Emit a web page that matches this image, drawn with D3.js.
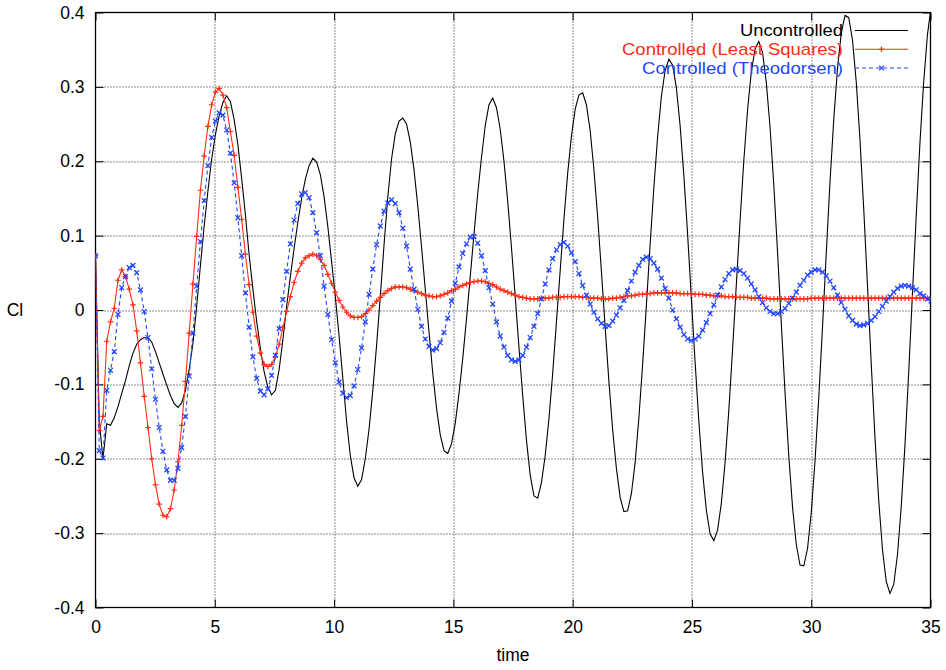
<!DOCTYPE html>
<html>
<head>
<meta charset="utf-8">
<script src="https://cdn.jsdelivr.net/npm/d3@7"></script>
<style>
  body { margin: 0; background: #fff; }
  svg text { font-family: "Liberation Sans", Arial, Helvetica, sans-serif; }
</style>
</head>
<body>
<div id="chart"></div>
<script>
// sample step of the simulation output (pi/20 time units)
const dt = Math.PI / 20

const uncontrolled = [
  0.073, -0.150, -0.200, -0.153, -0.155, -0.145, -0.130, -0.112, -0.095, -0.075,
  -0.058, -0.046, -0.040, -0.037, -0.038, -0.043, -0.056, -0.071, -0.086, -0.101,
  -0.115, -0.126, -0.131, -0.125, -0.108, -0.080, -0.045, 0.005, 0.060, 0.113,
  0.160, 0.203, 0.236, 0.261, 0.279, 0.288, 0.280, 0.256, 0.222, 0.177,
  0.128, 0.074, 0.028, -0.015, -0.052, -0.083, -0.104, -0.114, -0.108, -0.080,
  -0.040, 0.005, 0.045, 0.083, 0.118, 0.150, 0.176, 0.194, 0.204, 0.199,
  0.182, 0.152, 0.112, 0.065, 0.018, -0.035, -0.092, -0.150, -0.196, -0.226,
  -0.237, -0.228, -0.200, -0.160, -0.108, -0.048, 0.018, 0.088, 0.152, 0.203,
  0.237, 0.254, 0.258, 0.250, 0.226, 0.188, 0.140, 0.085, 0.028, -0.030,
  -0.085, -0.132, -0.168, -0.189, -0.193, -0.180, -0.152, -0.112, -0.065, -0.012,
  0.045, 0.102, 0.157, 0.205, 0.248, 0.276, 0.285, 0.272, 0.243, 0.200,
  0.146, 0.084, 0.018, -0.050, -0.115, -0.175, -0.222, -0.250, -0.253, -0.232,
  -0.196, -0.146, -0.085, -0.016, 0.053, 0.122, 0.184, 0.234, 0.270, 0.289,
  0.292, 0.276, 0.241, 0.189, 0.125, 0.052, -0.023, -0.096, -0.161, -0.213,
  -0.252, -0.271, -0.270, -0.247, -0.205, -0.145, -0.073, 0.006, 0.088, 0.165,
  0.233, 0.287, 0.322, 0.337, 0.329, 0.299, 0.248, 0.181, 0.102, 0.016,
  -0.070, -0.150, -0.218, -0.269, -0.301, -0.310, -0.296, -0.260, -0.205, -0.135,
  -0.053, 0.034, 0.120, 0.201, 0.269, 0.320, 0.351, 0.361, 0.346, 0.306,
  0.246, 0.168, 0.078, -0.018, -0.111, -0.196, -0.265, -0.315, -0.343, -0.344,
  -0.321, -0.272, -0.203, -0.118, -0.023, 0.076, 0.172, 0.256, 0.325, 0.372,
  0.396, 0.393, 0.363, 0.307, 0.229, 0.136, 0.033, -0.072, -0.171, -0.256,
  -0.322, -0.365, -0.381, -0.369, -0.329, -0.265, -0.182, -0.084, 0.022, 0.126,
  0.225, 0.307, 0.370, 0.409
]

const leastSquares = [
  0.073, -0.162, -0.143, -0.042, -0.016, 0.002, 0.040, 0.054, 0.045, 0.028,
  0.007, -0.028, -0.071, -0.116, -0.158, -0.200, -0.235, -0.261, -0.276, -0.278,
  -0.267, -0.242, -0.204, -0.155, -0.096, -0.031, 0.035, 0.099, 0.161, 0.207,
  0.247, 0.276, 0.293, 0.298, 0.289, 0.272, 0.240, 0.208, 0.165, 0.122,
  0.075, 0.034, -0.003, -0.035, -0.058, -0.073, -0.076, -0.073, -0.063, -0.046,
  -0.024, -0.002, 0.018, 0.037, 0.052, 0.063, 0.070, 0.073, 0.075, 0.073,
  0.068, 0.060, 0.048, 0.036, 0.024, 0.013, 0.004, -0.003, -0.008, -0.010,
  -0.010, -0.009, -0.005, 0.000, 0.006, 0.012, 0.017, 0.022, 0.026, 0.029,
  0.031, 0.031, 0.031, 0.030, 0.028, 0.026, 0.024, 0.022, 0.020, 0.019,
  0.018, 0.018, 0.019, 0.021, 0.023, 0.026, 0.028, 0.031, 0.033, 0.035,
  0.037, 0.038, 0.039, 0.039, 0.038, 0.036, 0.034, 0.031, 0.028, 0.026,
  0.024, 0.022, 0.020, 0.018, 0.017, 0.016, 0.015, 0.015, 0.015, 0.016,
  0.016, 0.016, 0.017, 0.017, 0.017, 0.018, 0.018, 0.018, 0.018, 0.018,
  0.017, 0.017, 0.016, 0.016, 0.016, 0.015, 0.015, 0.015, 0.016, 0.016,
  0.017, 0.018, 0.019, 0.019, 0.020, 0.021, 0.021, 0.022, 0.022, 0.023,
  0.023, 0.023, 0.023, 0.023, 0.023, 0.023, 0.022, 0.022, 0.022, 0.022,
  0.021, 0.021, 0.021, 0.020, 0.020, 0.019, 0.019, 0.019, 0.018, 0.018,
  0.018, 0.017, 0.017, 0.017, 0.017, 0.016, 0.016, 0.016, 0.016, 0.016,
  0.015, 0.015, 0.015, 0.015, 0.015, 0.015, 0.015, 0.015, 0.015, 0.015,
  0.015, 0.016, 0.016, 0.016, 0.016, 0.016, 0.016, 0.016, 0.016, 0.016,
  0.016, 0.016, 0.016, 0.016, 0.016, 0.016, 0.016, 0.016, 0.016, 0.016,
  0.016, 0.016, 0.016, 0.016, 0.016, 0.016, 0.016, 0.016, 0.016, 0.016,
  0.016, 0.016, 0.016, 0.016
]

const theodorsen = [
  0.073, -0.189, -0.199, -0.108, -0.081, -0.056, -0.006, 0.030, 0.045, 0.057,
  0.060, 0.050, 0.027, -0.002, -0.037, -0.079, -0.120, -0.158, -0.190, -0.215,
  -0.229, -0.229, -0.213, -0.185, -0.143, -0.089, -0.031, 0.032, 0.092, 0.147,
  0.194, 0.232, 0.254, 0.265, 0.262, 0.242, 0.211, 0.171, 0.124, 0.073,
  0.023, -0.023, -0.063, -0.092, -0.109, -0.114, -0.106, -0.088, -0.061, -0.025,
  0.014, 0.052, 0.089, 0.121, 0.143, 0.156, 0.158, 0.151, 0.131, 0.104,
  0.073, 0.032, -0.006, -0.040, -0.071, -0.097, -0.112, -0.118, -0.115, -0.102,
  -0.080, -0.051, -0.016, 0.021, 0.055, 0.088, 0.113, 0.133, 0.144, 0.148,
  0.143, 0.131, 0.110, 0.086, 0.055, 0.028, 0.001, -0.022, -0.039, -0.049,
  -0.054, -0.052, -0.044, -0.030, -0.011, 0.012, 0.036, 0.058, 0.076, 0.089,
  0.098, 0.099, 0.090, 0.073, 0.053, 0.030, 0.008, -0.016, -0.035, -0.050,
  -0.061, -0.067, -0.069, -0.067, -0.061, -0.050, -0.037, -0.022, -0.005, 0.015,
  0.035, 0.054, 0.069, 0.081, 0.088, 0.091, 0.086, 0.077, 0.065, 0.049,
  0.033, 0.020, 0.008, -0.003, -0.012, -0.018, -0.022, -0.021, -0.015, -0.007,
  0.003, 0.013, 0.026, 0.039, 0.051, 0.060, 0.068, 0.071, 0.069, 0.063,
  0.055, 0.043, 0.029, 0.016, 0.000, -0.012, -0.023, -0.033, -0.039, -0.041,
  -0.039, -0.035, -0.027, -0.017, -0.005, 0.007, 0.020, 0.031, 0.041, 0.049,
  0.054, 0.055, 0.053, 0.049, 0.043, 0.035, 0.027, 0.018, 0.010, 0.003,
  -0.002, -0.005, -0.005, -0.002, 0.002, 0.009, 0.016, 0.024, 0.033, 0.040,
  0.047, 0.051, 0.054, 0.054, 0.051, 0.046, 0.039, 0.030, 0.020, 0.010,
  0.001, -0.008, -0.014, -0.019, -0.021, -0.020, -0.018, -0.014, -0.009, -0.002,
  0.005, 0.012, 0.018, 0.024, 0.029, 0.032, 0.033, 0.032, 0.030, 0.027,
  0.022, 0.019, 0.015, 0.012
]

const xTicks = [0, 5, 10, 15, 20, 25, 30, 35]
const yTicks = [-0.4, -0.3, -0.2, -0.1, 0, 0.1, 0.2, 0.3, 0.4]
const seriesNames = ["Uncontrolled", "Controlled (Least Squares)", "Controlled (Theodorsen)"]
const seriesColors = ["#000000", "#ff2d12", "#2245ff"]

// set the dimensions and margins of the graph
const margin = {top: 12.5, right: 15.5, bottom: 62.5, left: 95.5}
const width = 946 - margin.left - margin.right
const height = 670 - margin.top - margin.bottom

const x = d3.scaleLinear().domain([0, 35]).range([0, width])
const y = d3.scaleLinear().domain([-0.4, 0.4]).range([height, 0])

const svg = d3.select("#chart")
    .append("svg")
    .attr("width", 946)
    .attr("height", 670)

svg.append("rect").attr("width", 946).attr("height", 670).attr("fill", "#fff")

const g = svg.append("g")
    .attr("transform", "translate(" + margin.left + "," + margin.top + ")")

// dotted grid at the inner ticks
g.append("g").selectAll("line")
    .data(xTicks.slice(1, -1))
    .join("line")
      .attr("x1", d => Math.round(x(d)) + 0.5)
      .attr("x2", d => Math.round(x(d)) + 0.5)
      .attr("y1", 0)
      .attr("y2", height)
g.append("g").selectAll("line")
    .data(yTicks.slice(1, -1))
    .join("line")
      .attr("x1", 0)
      .attr("x2", width)
      .attr("y1", d => Math.round(y(d)) + 0.5)
      .attr("y2", d => Math.round(y(d)) + 0.5)
g.selectAll("g line")
    .attr("stroke", "#000")
    .attr("stroke-opacity", 0.9)
    .attr("stroke-dasharray", "1,2")

const yFmt = d => d === 0 ? "0" : d.toFixed(1)

// axes, gnuplot style: ticks inside, mirrored on top / right
const styleAxis = sel => {
    sel.select(".domain").remove()
    sel.attr("font-family", null).attr("font-size", 17.5)
    sel.selectAll("text").attr("fill", "#000")
    sel.selectAll(".tick line").attr("stroke", "#000")
}
g.append("g")
    .attr("transform", "translate(0," + height + ")")
    .call(d3.axisBottom(x).tickValues(xTicks).tickSizeInner(-8).tickSizeOuter(0).tickPadding(13).tickFormat(d3.format("d")))
    .call(styleAxis)
g.append("g")
    .call(d3.axisLeft(y).tickValues(yTicks).tickSizeInner(-8).tickSizeOuter(0).tickPadding(11).tickFormat(yFmt))
    .call(styleAxis)
g.append("g")
    .call(d3.axisTop(x).tickValues(xTicks).tickSizeInner(-8).tickSizeOuter(0).tickFormat(""))
    .call(styleAxis)
g.append("g")
    .attr("transform", "translate(" + width + ",0)")
    .call(d3.axisRight(y).tickValues(yTicks).tickSizeInner(-8).tickSizeOuter(0).tickFormat(""))
    .call(styleAxis)

g.append("rect")
    .attr("width", width)
    .attr("height", height)
    .attr("fill", "none")
    .attr("stroke", "#000")
    .attr("stroke-width", 1.3)

svg.append("text")
    .attr("x", 15)
    .attr("y", 310)
    .attr("dy", "0.35em")
    .attr("text-anchor", "middle")
    .attr("font-size", 17.5)
    .text("Cl")

svg.append("text")
    .attr("x", margin.left + width / 2)
    .attr("y", 661)
    .attr("text-anchor", "middle")
    .attr("font-size", 17.5)
    .text("time")

// curves
g.append("clipPath").attr("id", "plot-clip")
    .append("rect").attr("width", width).attr("height", height)

const line = d3.line()
    .x((d, i) => x(i * dt))
    .y(d => y(d))

const plusPath = "M-2.8,0H2.8M0,-2.8V2.8"
const crossPath = "M-2.4,-2.4L2.4,2.4M-2.4,2.4L2.4,-2.4"

const plot = g.append("g").attr("clip-path", "url(#plot-clip)")

plot.append("path")
    .attr("d", line(uncontrolled))
    .attr("fill", "none")
    .attr("stroke", seriesColors[0])
    .attr("stroke-width", 1.1)

plot.append("path")
    .attr("d", line(leastSquares))
    .attr("fill", "none")
    .attr("stroke", seriesColors[1])
    .attr("stroke-width", 1.1)
plot.append("g").selectAll("path")
    .data(leastSquares)
    .join("path")
      .attr("transform", (d, i) => "translate(" + x(i * dt) + "," + y(d) + ")")
      .attr("d", plusPath)
      .attr("stroke", seriesColors[1])
      .attr("stroke-width", 1.2)

plot.append("path")
    .attr("d", line(theodorsen))
    .attr("fill", "none")
    .attr("stroke", seriesColors[2])
    .attr("stroke-width", 1.1)
    .attr("stroke-dasharray", "4,3")
plot.append("g").selectAll("path")
    .data(theodorsen)
    .join("path")
      .attr("transform", (d, i) => "translate(" + x(i * dt) + "," + y(d) + ")")
      .attr("d", crossPath)
      .attr("stroke", seriesColors[2])
      .attr("stroke-width", 1.3)

// legend, top right. Font kept small enough that the rows don't collide,
// then stretched to the width the labels have in the original
const legendWidths = [103, 221, 201]
const legend = svg.append("g")
seriesNames.forEach((name, i) => {
    const ly = 30.5 + i * 18.75
    legend.append("text")
        .attr("x", 843)
        .attr("y", ly)
        .attr("dy", "0.36em")
        .attr("text-anchor", "end")
        .attr("font-size", 16.4)
        .attr("textLength", legendWidths[i])
        .attr("lengthAdjust", "spacingAndGlyphs")
        .attr("fill", seriesColors[i])
        .text(name)
    const sample = legend.append("line")
        .attr("x1", 855).attr("x2", 908)
        .attr("y1", ly).attr("y2", ly)
        .attr("stroke", seriesColors[i])
        .attr("stroke-width", 1.1)
    if (i === 2) sample.attr("stroke-dasharray", "4,3")
    if (i > 0) {
        legend.append("path")
            .attr("transform", "translate(881.5," + ly + ")")
            .attr("d", i === 1 ? plusPath : crossPath)
            .attr("stroke", seriesColors[i])
            .attr("stroke-width", 1.2)
    }
})
</script>
</body>
</html>
